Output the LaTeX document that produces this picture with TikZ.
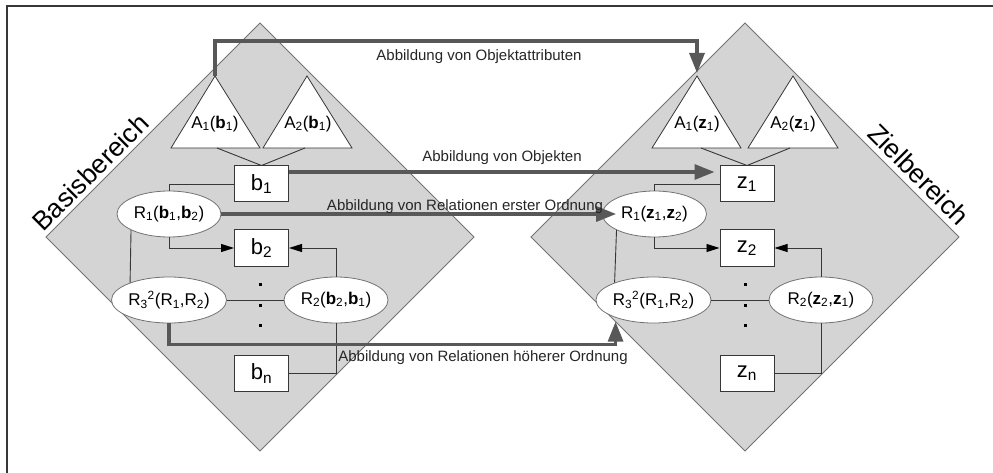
\documentclass[tikz,border=0pt]{standalone}
\usepackage{fontspec}
\setmainfont{Liberation Sans}
\usetikzlibrary{shapes.geometric,calc,arrows.meta}
\definecolor{areafill}{RGB}{212,212,212}
\definecolor{areaedge}{RGB}{115,115,115}
\definecolor{mapgray}{RGB}{88,88,88}
\definecolor{linkgray}{RGB}{55,55,55}
\newcommand\lowidx[1]{\textsubscript{#1}}
\newcommand\highidx[1]{\textsuperscript{#1}}

\begin{document}
\begin{tikzpicture}[x=1pt,y=-1pt,
  area/.style={fill=areafill,draw=areaedge,line width=0.8pt},
  attrtri/.style={fill=white,draw=linkgray,line width=0.8pt,line join=miter},
  attrtext/.style={font=\fontsize{17}{17}\selectfont,inner sep=0},
  objbox/.style={rectangle,draw=linkgray,fill=white,line width=1pt,minimum width=54pt,minimum height=36pt,inner sep=0,font=\fontsize{22}{22}\selectfont},
  relnode/.style={ellipse,draw=areaedge,fill=white,line width=0.8pt,minimum width=104pt,minimum height=46pt,inner sep=0,font=\fontsize{17}{17}\selectfont},
  dotmark/.style={rectangle,fill=black,minimum size=3pt,inner sep=0},
  link/.style={draw=linkgray,line width=0.9pt},
  linkarrow/.style={link,-{Triangle[length=13pt,width=8pt,color=black]}},
  maparrow/.style={draw=mapgray,line width=3.3pt,-{Triangle[length=20pt,width=15pt]}},
  maplabel/.style={font=\fontsize{15}{15}\selectfont,text=black!85,inner sep=0},
  areatitle/.style={font=\fontsize{26.5}{26.5}\selectfont,inner sep=0}
]
\useasboundingbox (0,0) rectangle (993,473);

% open frame (left and top edges)
\draw[linkgray,line width=1.6pt] (7,473) -- (7,6) -- (993,6);

% the two domains
\draw[area] (260,23) -- (474,237) -- (260,451) -- (46,237) -- cycle;
\draw[area] (745,23) -- (959,237) -- (745,451) -- (531,237) -- cycle;
\node[areatitle,rotate=45,anchor=base] (basis) at (97,179) {Basisbereich};
\node[areatitle,rotate=-45,anchor=base] (ziel) at (912,181) {Zielbereich};

% attribute triangles
\coordinate (A1b-top) at (215,76);
\coordinate (A2b-top) at (307,76);
\coordinate (A1z-top) at (697,76);
\coordinate (A2z-top) at (793,76);
\draw[attrtri] (A1b-top) -- (260,148) -- (171,148) -- cycle;
\draw[attrtri] (A2b-top) -- (352,148) -- (263,148) -- cycle;
\draw[attrtri] (A1z-top) -- (741,148) -- (652,148) -- cycle;
\draw[attrtri] (A2z-top) -- (838,148) -- (748,148) -- cycle;
\node[attrtext] (A1b) at (215,124) {A\lowidx{1}(\textbf{b}\lowidx{1})};
\node[attrtext] (A2b) at (308,124) {A\lowidx{2}(\textbf{b}\lowidx{1})};
\node[attrtext] (A1z) at (697,124) {A\lowidx{1}(\textbf{z}\lowidx{1})};
\node[attrtext] (A2z) at (793,124) {A\lowidx{2}(\textbf{z}\lowidx{1})};
\coordinate (A1b-foot) at (217,148);
\coordinate (A2b-foot) at (305,148);
\coordinate (A1z-foot) at (701,148);
\coordinate (A2z-foot) at (790,148);

% objects
\node[objbox] (b1) at (261.5,184) {b\lowidx{1}};
\node[objbox] (b2) at (261.5,248) {b\lowidx{2}};
\node[objbox] (bn) at (261.5,373.5) {b\lowidx{n}};
\node[objbox] (z1) at (747,184) {z\lowidx{1}};
\node[objbox] (z2) at (747,248) {z\lowidx{2}};
\node[objbox] (zn) at (747,373.5) {z\lowidx{n}};

% relations
\node[relnode] (R1b) at (169,214) {R\lowidx{1}(\textbf{b}\lowidx{1},\textbf{b}\lowidx{2})};
\node[relnode] (R3b) at (169,300) {R\lowidx{3}\highidx{2}(R\lowidx{1},R\lowidx{2})};
\node[relnode] (R2b) at (336,300) {R\lowidx{2}(\textbf{b}\lowidx{2},\textbf{b}\lowidx{1})};
\node[relnode] (R1z) at (654.5,214) {R\lowidx{1}(\textbf{z}\lowidx{1},\textbf{z}\lowidx{2})};
\node[relnode] (R3z) at (653.5,300) {R\lowidx{3}\highidx{2}(R\lowidx{1},R\lowidx{2})};
\node[relnode] (R2z) at (821,300) {R\lowidx{2}(\textbf{z}\lowidx{2},\textbf{z}\lowidx{1})};

% continuation dots
\node[dotmark] (bdot1) at (260,284) {};
\node[dotmark] (bdot2) at (260,305) {};
\node[dotmark] (bdot3) at (260,325) {};
\node[dotmark] (zdot1) at (745,284) {};
\node[dotmark] (zdot2) at (745,305) {};
\node[dotmark] (zdot3) at (745,325) {};

% links inside the base domain
\draw[link] (A1b-foot) -- (b1.north) -- (A2b-foot);
\draw[link] (b1.west) -| (R1b.north);
\draw[linkarrow] (R1b.south) |- (b2.west);
\draw[linkarrow] (R2b.north) |- (b2.east);
\draw[link] (R2b.south) |- (bn.east);
\draw[link] (R3b.east) -- (R2b.west);
\draw[link] (R1b.203.6) -- (R3b.156.4);

% links inside the target domain
\draw[link] (A1z-foot) -- (z1.north) -- (A2z-foot);
\draw[link] (z1.west) -| (R1z.north);
\draw[linkarrow] (R1z.south) |- (z2.west);
\draw[linkarrow] (R2z.north) |- (z2.east);
\draw[link] (R2z.south) |- (zn.east);
\draw[link] (R3z.east) -- (R2z.west);
\draw[link] (R1z.203.6) -- (R3z.156.4);

% mappings between the domains
\coordinate (attr-bend) at (697,41);
\draw[maparrow] (A1b-top) |- (attr-bend) -- ([yshift=3pt]A1z-top);
\draw[maparrow] ([yshift=12pt]b1.east) -- ([yshift=12pt,xshift=-5pt]z1.west);
\draw[maparrow] (R1b.east) -- ([xshift=14pt]R1z.west);
\draw[maparrow] (R3b.south) -- ++(0,21) -| ([yshift=-4pt]R3z.205);

% mapping labels
\node[maplabel] (lab-attr) at (479,57) {Abbildung von Objektattributen};
\node[maplabel] (lab-obj) at (502,158) {Abbildung von Objekten};
\node[maplabel] (lab-rel1) at (465,207) {Abbildung von Relationen erster Ordnung};
\node[maplabel] (lab-relh) at (483,358) {Abbildung von Relationen höherer Ordnung};
\end{tikzpicture}
\end{document}
